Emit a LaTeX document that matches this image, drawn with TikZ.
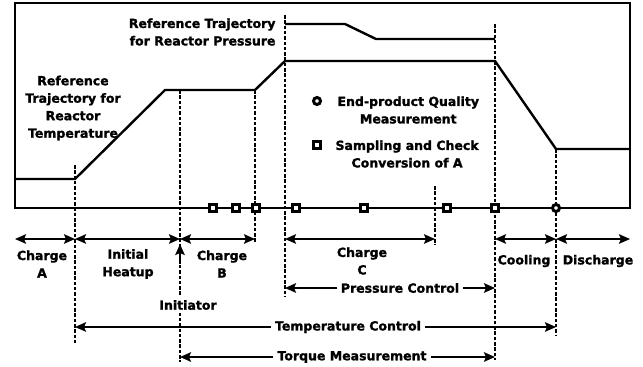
\documentclass[tikz,border=0pt]{standalone}
\usepackage{fontspec}
\usepackage{tikz}
\usetikzlibrary{arrows.meta, calc}
\setmainfont{DejaVu Sans}[BoldFeatures={FakeBold=1.5}]

\begin{document}
\begin{tikzpicture}[x=1pt, y=-1pt, >={Stealth[length=11pt, width=9.5pt, inset=2pt]},
  font=\fontsize{12.5}{17.5}\selectfont\bfseries, line width=2.4pt,
  guide/.style={line width=1.7pt, dash pattern=on 3.5pt off 1.8pt},
  span/.style={line width=1.9pt},
  sq/.style={rectangle, draw, fill=white, line width=3pt, minimum size=6.5pt, inner sep=0pt},
  ring/.style={circle, draw, fill=white, line width=3pt, minimum size=7pt, inner sep=0pt},
  lbl/.style={fill=white, inner sep=3pt}]
  \useasboundingbox (0,0) rectangle (643,367);

  % phase boundaries on the time axis
  \foreach \n/\x in {0/15, 1/75, 2/180, 3/255, 4/285, 5/435, 6/495, 7/556, 8/630}
    \coordinate (t\n) at (\x,208);
  \coordinate (row) at (0,239);

  % guide lines
  \foreach \x/\a/\b in {75/165/343, 180/90/362, 255/90/243, 285/15/297, 435/186/245, 495/24/360, 556/149/335}
    \draw[guide] (\x,\a) -- (\x,\b);

  % frame
  \draw (15,3) rectangle (630,208);

  % reference trajectories
  \draw (15,179) -- (75,179) -- (165,90) -- (255,90) -- (285,61) -- (495,61) -- (556,149) -- (630,149);
  \draw (285,24) -- (345,24) -- (376,39) -- (495,39);
  \node[align=right, anchor=east] (refp) at (280,32) {Reference Trajectory\\for Reactor Pressure};
  \node[align=center] (reft) at (73,108) {Reference\\Trajectory for\\Reactor\\Temperature};

  % measurements
  \foreach \x in {213, 236, 256, 296, 364, 447, 495}
    \node[sq] (s\x) at (\x,208) {};
  \node[ring] (q) at (t7) {};

  % legend
  \node[ring] (legq) at (317,101) {};
  \node[anchor=west, align=center] (endq) at (333,110) {End-product Quality\\Measurement};
  \node[sq] (legs) at (317,145) {};
  \node[anchor=west, align=center] (samp) at (331,154) {Sampling and Check\\Conversion of A};

  % phases
  \foreach \a/\b in {0/1, 1/2, 2/3, 4/5, 6/7, 7/8}
    \draw[span, <->] (t\a |- row) -- (t\b |- row);
  \node[align=center] (cha) at (42,264) {Charge\\A};
  \node[align=center] (heat) at (128,264) {Initial\\Heatup};
  \node[align=center] (chb) at (222,264) {Charge\\B};
  \node[align=center] (chc) at (362,261) {Charge\\C};
  \node (cool) at (524,261) {Cooling};
  \node (disc) at (598,261) {Discharge};

  % initiator
  \draw[span, ->] (180,264) -- (180,244);
  \node[lbl] (ini) at (188,305) {Initiator};

  % control loops
  \node[lbl] (pc) at (400,288) {Pressure Control};
  \draw[span, ->] (pc) -- (t4 |- pc);
  \draw[span, ->] (pc) -- (t6 |- pc);
  \node[lbl] (tc) at (348,327) {Temperature Control};
  \draw[span, ->] (tc) -- (t1 |- tc);
  \draw[span, ->] (tc) -- (t7 |- tc);
  \node[lbl] (tm) at (352,357) {Torque Measurement};
  \draw[span, ->] (tm) -- (t2 |- tm);
  \draw[span, ->] (tm) -- (t6 |- tm);
\end{tikzpicture}
\end{document}
